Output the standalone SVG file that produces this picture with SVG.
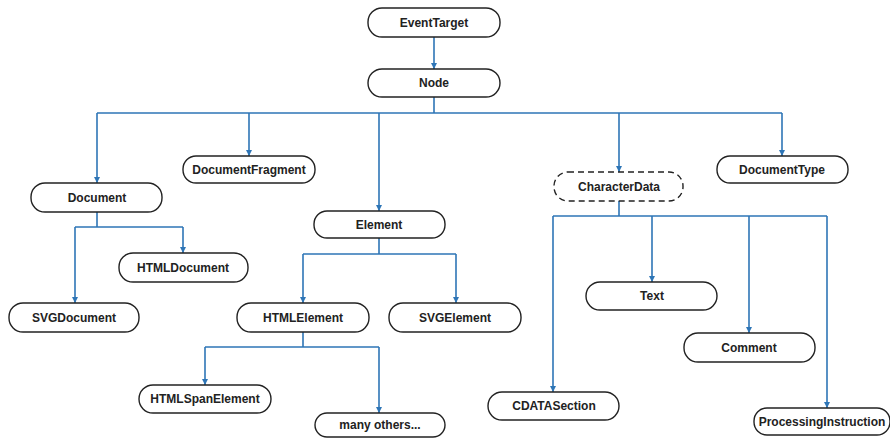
<svg xmlns="http://www.w3.org/2000/svg" width="890" height="439" viewBox="0 0 890 439">
<style>
.n rect{fill:#fff;stroke:#222;stroke-width:1.4}
.n text{font-family:"Liberation Sans",Arial,sans-serif;font-weight:bold;font-size:12px;fill:#222;text-anchor:middle;dominant-baseline:central}
.d rect{stroke-dasharray:6,4}
#edges path{fill:none;stroke:#2e75b6;stroke-width:1.6}
</style>
<defs>
<marker id="a" viewBox="0 0 10 10" refX="10" refY="5" markerWidth="6" markerHeight="6" markerUnits="userSpaceOnUse" orient="auto">
<path d="M0,0 L10,5 L0,10 z" fill="#2e75b6"/>
</marker>
</defs>
<rect width="890" height="439" fill="#fff"/>
<g id="edges">
<path d="M434,37 V69" marker-end="url(#a)"/>
<path d="M434,97 V113 M97,113 H782"/>
<path d="M97,113 V183" marker-end="url(#a)"/>
<path d="M249,113 V156" marker-end="url(#a)"/>
<path d="M379,113 V211" marker-end="url(#a)"/>
<path d="M619,113 V172" marker-end="url(#a)"/>
<path d="M782,113 V156" marker-end="url(#a)"/>
<path d="M97,212 V227 M75,227 H183"/>
<path d="M183,227 V253" marker-end="url(#a)"/>
<path d="M75,227 V303" marker-end="url(#a)"/>
<path d="M379,238 V254 M303,254 H456"/>
<path d="M303,254 V303" marker-end="url(#a)"/>
<path d="M456,254 V303" marker-end="url(#a)"/>
<path d="M303,332 V347 M205,347 H379"/>
<path d="M205,347 V385" marker-end="url(#a)"/>
<path d="M379,347 V413" marker-end="url(#a)"/>
<path d="M619,201 V216 M553,216 H827"/>
<path d="M553,216 V392" marker-end="url(#a)"/>
<path d="M652,216 V282" marker-end="url(#a)"/>
<path d="M749,216 V333" marker-end="url(#a)"/>
<path d="M827,216 V408" marker-end="url(#a)"/>
</g>
<g id="EventTarget" class="n"><rect x="368" y="8" width="132" height="29" rx="14"/><text x="434" y="22.5">EventTarget</text></g>
<g id="Node" class="n"><rect x="368" y="69" width="132" height="28" rx="14"/><text x="434" y="83">Node</text></g>
<g id="Document" class="n"><rect x="31" y="183" width="131" height="29" rx="14"/><text x="97" y="197.5">Document</text></g>
<g id="DocumentFragment" class="n"><rect x="183" y="156" width="132" height="27" rx="13"/><text x="249" y="169.5">DocumentFragment</text></g>
<g id="HTMLDocument" class="n"><rect x="119" y="253" width="129" height="29" rx="14"/><text x="183" y="267.5">HTMLDocument</text></g>
<g id="SVGDocument" class="n"><rect x="9" y="303" width="130" height="29" rx="14"/><text x="74" y="317.5">SVGDocument</text></g>
<g id="Element" class="n"><rect x="314" y="211" width="131" height="27" rx="13"/><text x="379" y="224.5">Element</text></g>
<g id="HTMLElement" class="n"><rect x="237" y="303" width="132" height="29" rx="14"/><text x="303" y="317.5">HTMLElement</text></g>
<g id="SVGElement" class="n"><rect x="389" y="303" width="132" height="29" rx="14"/><text x="455" y="317.5">SVGElement</text></g>
<g id="HTMLSpanElement" class="n"><rect x="139" y="385" width="132" height="28" rx="14"/><text x="205" y="399">HTMLSpanElement</text></g>
<g id="manyOthers" class="n"><rect x="315" y="413" width="130" height="24" rx="12"/><text x="380" y="425">many others...</text></g>
<g id="CharacterData" class="n d"><rect x="554" y="172" width="129" height="29" rx="14"/><text x="619" y="186.5">CharacterData</text></g>
<g id="DocumentType" class="n"><rect x="717" y="156" width="131" height="27" rx="13"/><text x="782" y="169.5">DocumentType</text></g>
<g id="Text" class="n"><rect x="586" y="282" width="131" height="28" rx="14"/><text x="652" y="296">Text</text></g>
<g id="Comment" class="n"><rect x="684" y="333" width="131" height="29" rx="14"/><text x="749" y="347.5">Comment</text></g>
<g id="CDATASection" class="n"><rect x="488" y="392" width="131" height="28" rx="14"/><text x="554" y="406">CDATASection</text></g>
<g id="ProcessingInstruction" class="n"><rect x="754" y="408" width="136" height="27" rx="13"/><text x="822" y="421.5">ProcessingInstruction</text></g>
</svg>
